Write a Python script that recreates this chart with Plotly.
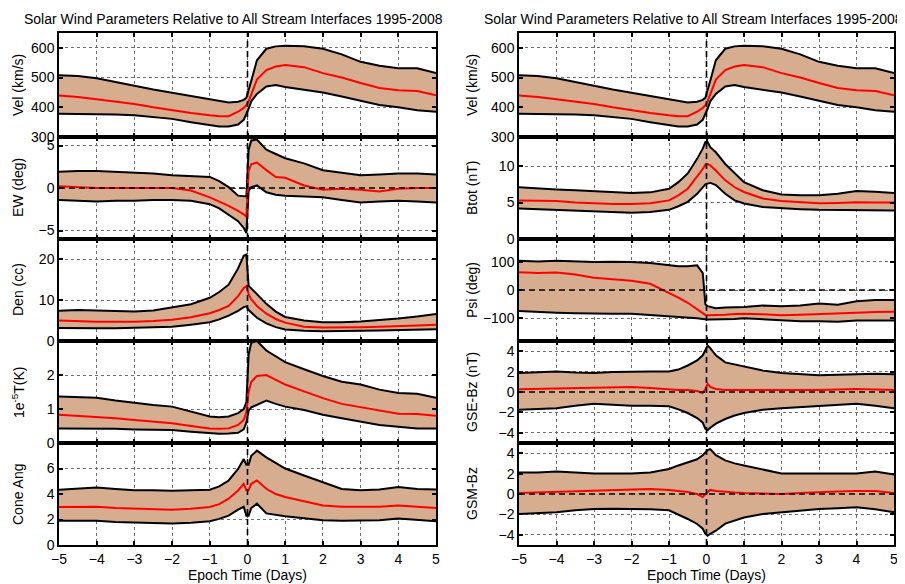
import plotly.graph_objects as go

# ---------------- data ----------------
epoch_days = [-5, -4.5, -4, -3.5, -3, -2.5, -2, -1.5, -1, -0.75, -0.5, -0.25, -0.1, -0.03,
              0.03, 0.1, 0.25, 0.5, 0.75, 1, 1.5, 2, 2.5, 3, 3.5, 4, 4.5, 5]

vel_upper = [508, 505, 498, 485, 472, 460, 449, 438, 427, 420, 416, 419, 425, 432,
             455, 489, 558, 597, 605, 607, 605, 597, 578, 553, 540, 531, 531, 515]
vel_median = [440, 435, 427, 420, 411, 400, 390, 381, 373, 370, 370, 385, 398, 407,
              420, 443, 493, 525, 537, 542, 535, 515, 500, 482, 465, 457, 455, 440]
vel_lower = [378, 378, 378, 376, 373, 367, 361, 350, 340, 335, 335, 342, 358, 375,
             395, 420, 445, 470, 475, 468, 458, 450, 436, 423, 408, 400, 390, 385]

ew_upper = [1.9, 2.0, 2.0, 1.9, 1.8, 1.7, 1.5, 1.4, 1.3, 0.8, 0.1, -0.9, -1.0, -1.0,
            4.5, 5.6, 5.7, 4.5, 4.0, 3.5, 2.9, 2.1, 1.8, 1.5, 1.6, 1.7, 1.7, 1.6]
ew_median = [0.2, 0.1, 0.0, 0.0, 0.0, 0.0, 0.0, -0.3, -1.1, -1.6, -2.1, -2.7, -3.1, -3.4,
             2.0, 2.8, 3.0, 2.1, 1.3, 1.2, 0.3, -0.2, -0.1, -0.2, -0.4, -0.1, 0.0, 0.0]
ew_lower = [-1.4, -1.5, -1.6, -1.5, -1.5, -1.4, -1.4, -1.5, -1.9, -2.4, -3.1, -3.9, -4.7, -5.3,
            -0.3, 0.1, 0.3, -0.5, -0.8, -0.9, -1.0, -1.1, -1.4, -1.7, -1.6, -1.5, -1.6, -1.7]

den_upper = [7.4, 7.6, 7.5, 7.3, 7.2, 7.5, 8.2, 9.0, 10.6, 12.0, 13.8, 17.8, 20.9, 21.2,
             13.5, 12.8, 11.5, 9.1, 7.2, 5.9, 5.0, 4.6, 4.6, 4.8, 5.1, 5.5, 6.0, 6.6]
den_median = [5.0, 4.8, 4.7, 4.7, 4.7, 4.9, 5.2, 5.8, 6.8, 7.6, 8.6, 11.0, 13.0, 13.4,
              11.5, 10.2, 8.6, 6.7, 5.4, 4.5, 3.5, 3.3, 3.3, 3.4, 3.5, 3.6, 3.8, 4.0]
den_lower = [3.2, 3.1, 3.1, 3.1, 3.2, 3.3, 3.5, 4.0, 4.6, 5.3, 6.2, 7.4, 8.3, 8.5,
             7.6, 7.0, 5.7, 4.3, 3.4, 2.8, 2.5, 2.4, 2.4, 2.5, 2.6, 2.7, 2.8, 2.9]

temp_upper = [1.37, 1.35, 1.33, 1.25, 1.18, 1.12, 1.07, 0.93, 0.78, 0.76, 0.78, 0.88, 1.0, 1.2,
              2.6, 2.95, 3.0, 2.72, 2.55, 2.38, 2.17, 1.97, 1.8, 1.72, 1.57, 1.47, 1.45, 1.33]
temp_median = [0.83, 0.8, 0.78, 0.73, 0.68, 0.63, 0.58, 0.5, 0.43, 0.42, 0.43, 0.53, 0.68, 0.9,
               1.5, 1.8, 1.97, 2.0, 1.85, 1.72, 1.52, 1.32, 1.15, 1.05, 0.95, 0.86, 0.85, 0.8]
temp_lower = [0.43, 0.43, 0.43, 0.42, 0.4, 0.39, 0.38, 0.33, 0.28, 0.27, 0.28, 0.3, 0.4, 0.6,
              0.95, 1.05, 1.12, 1.25, 1.15, 1.07, 0.97, 0.83, 0.73, 0.63, 0.53, 0.48, 0.43, 0.43]

cone_upper = [4.33, 4.4, 4.5, 4.4, 4.3, 4.3, 4.25, 4.3, 4.33, 4.6, 5.06, 5.97, 6.74, 6.3,
              6.3, 7.0, 7.4, 6.87, 6.4, 6.0, 5.45, 4.93, 4.4, 4.3, 4.35, 4.55, 4.4, 4.35]
cone_median = [2.98, 3.0, 3.0, 2.9, 2.85, 2.8, 2.77, 2.85, 2.98, 3.2, 3.63, 4.28, 4.8, 4.3,
               4.3, 4.8, 5.06, 4.41, 4.0, 3.76, 3.4, 3.1, 3.0, 3.0, 3.0, 3.1, 3.0, 2.9]
cone_lower = [1.9, 1.9, 1.9, 1.8, 1.75, 1.7, 1.68, 1.75, 1.87, 2.05, 2.3, 2.77, 3.0, 2.3,
              2.3, 2.9, 3.24, 2.48, 2.35, 2.25, 2.1, 1.94, 1.9, 1.9, 1.95, 2.07, 1.95, 1.87]

btot_upper = [7.1, 6.9, 6.8, 6.7, 6.6, 6.4, 6.3, 6.4, 6.9, 7.8, 9.0, 11.0, 12.4, 13.3,
              13.3, 12.6, 11.9, 10.3, 9.0, 7.8, 6.7, 6.1, 6.0, 6.0, 6.2, 6.6, 6.5, 6.3]
btot_median = [5.3, 5.25, 5.2, 5.0, 4.87, 4.8, 4.8, 4.9, 5.3, 6.0, 6.9, 8.5, 9.6, 10.2,
               10.3, 10.1, 9.4, 8.05, 7.1, 6.45, 5.55, 5.2, 5.0, 4.9, 4.95, 5.05, 5.0, 5.0]
btot_lower = [4.2, 4.1, 4.0, 3.9, 3.73, 3.65, 3.6, 3.7, 4.0, 4.5, 5.1, 6.2, 7.1, 7.5,
              7.6, 7.7, 7.4, 6.2, 5.3, 4.87, 4.4, 4.2, 4.1, 4.0, 4.0, 4.0, 3.95, 3.9]

psi_upper = [103, 101, 103, 100, 99, 100, 99, 95, 87, 84, 84, 87, 60, -50,
             -57, -60, -64, -62, -61, -60, -55, -57, -55, -48, -52, -40, -35, -35]
psi_median = [63, 60, 62, 55, 43, 38, 33, 22, -9, -27, -45, -68, -84, -88,
              -89, -89, -89, -87, -85, -84, -86, -89, -87, -84, -82, -80, -78, -77]
psi_lower = [-74, -78, -80, -82, -84, -84, -84, -88, -92, -94, -96, -100, -102, -104,
             -104, -104, -104, -104, -102, -100, -104, -108, -110, -110, -112, -108, -108, -108]

gse_upper = [1.87, 1.95, 2.0, 1.9, 1.87, 1.95, 2.0, 2.0, 2.0, 2.2, 2.6, 3.1, 3.6, 4.2,
             4.55, 4.3, 3.6, 2.9, 2.7, 2.45, 2.1, 1.87, 1.75, 1.65, 1.7, 1.74, 1.8, 1.74]
gse_median = [0.26, 0.3, 0.3, 0.35, 0.4, 0.45, 0.5, 0.4, 0.26, 0.2, 0.2, 0.1, -0.1, 0.3,
              0.8, 0.5, 0.3, 0.2, 0.2, 0.2, 0.15, 0.2, 0.15, 0.2, 0.25, 0.3, 0.25, 0.2]
gse_lower = [-1.74, -1.7, -1.6, -1.35, -1.16, -1.25, -1.35, -1.35, -1.4, -1.7, -2.06, -2.55, -3.0, -3.6,
             -3.75, -3.5, -3.1, -2.65, -2.3, -2.06, -1.74, -1.6, -1.5, -1.4, -1.3, -1.16, -1.35, -1.6]

gsm_upper = [2.1, 2.1, 2.2, 2.1, 2.0, 2.0, 2.0, 2.1, 2.45, 2.8, 3.1, 3.4, 3.8, 4.1,
             4.3, 4.4, 3.8, 3.3, 3.0, 2.8, 2.4, 2.0, 2.0, 2.0, 2.0, 2.0, 2.2, 1.9]
gsm_median = [0.1, 0.15, 0.2, 0.25, 0.3, 0.35, 0.4, 0.5, 0.4, 0.3, 0.2, 0.0, -0.3, 0.0,
              0.2, 0.4, 0.3, 0.2, 0.15, 0.1, 0.05, 0.0, 0.1, 0.2, 0.25, 0.3, 0.3, 0.1]
gsm_lower = [-1.96, -1.9, -1.8, -1.6, -1.47, -1.45, -1.47, -1.5, -1.6, -2.0, -2.45, -2.94, -3.4, -3.9,
             -4.1, -3.9, -3.6, -2.9, -2.6, -2.3, -1.96, -1.8, -1.6, -1.47, -1.4, -1.3, -1.5, -1.8]

x_ticks = [-5, -4, -3, -2, -1, 0, 1, 2, 3, 4, 5]
title_text = "Solar Wind Parameters Relative to All Stream Interfaces 1995-2008"
x_title = "Epoch Time (Days)"

# label, upper, median, lower, y-range, y-ticks, zero line
left_panels = [
    ("Vel (km/s)", vel_upper, vel_median, vel_lower, [300, 650], [300, 400, 500, 600], False),
    ("EW (deg)", ew_upper, ew_median, ew_lower, [-6, 6], [-5, 0, 5], True),
    ("Den (cc)", den_upper, den_median, den_lower, [0, 25], [0, 10, 20], False),
    ("1e<sup>-5</sup>T(K)", temp_upper, temp_median, temp_lower, [0, 3], [0, 1, 2], False),
    ("Cone Ang", cone_upper, cone_median, cone_lower, [0, 8], [0, 2, 4, 6], False),
]
right_panels = [
    ("Vel (km/s)", vel_upper, vel_median, vel_lower, [300, 650], [300, 400, 500, 600], False),
    ("Btot (nT)", btot_upper, btot_median, btot_lower, [0, 14], [0, 5, 10], False),
    ("Psi (deg)", psi_upper, psi_median, psi_lower, [-180, 180], [-100, 0, 100], True),
    ("GSE-Bz (nT)", gse_upper, gse_median, gse_lower, [-5, 5], [-4, -2, 0, 2, 4], True),
    ("GSM-Bz", gsm_upper, gsm_median, gsm_lower, [-5, 5], [-4, -2, 0, 2, 4], True),
]

# ---------------- layout geometry (page pixels; page body has an 8px margin) ----------------
OFF = 8
W, H = 905 - OFF, 584 - OFF
FONT = "Liberation Sans, Arial, Helvetica, sans-serif"
FILL = "rgb(214,173,143)"
col_px = [(59, 436), (519, 894)]
row_px = [33, 137, 239, 341, 443, 545]
ylab_px = [18, 472]
title_px = [22, 482]


def fx(p):
    return (p - OFF) / W


def fy(p):
    return 1 - (p - OFF) / H


fig = go.Figure()
layout = dict(
    width=W, height=H, margin=dict(l=0, r=0, t=0, b=0, autoexpand=False),
    paper_bgcolor="white", plot_bgcolor="white", showlegend=False,
    font=dict(family=FONT, size=14, color="black"),
)
shapes, annotations = [], []

idx = 0
for c, panels in enumerate([left_panels, right_panels]):
    x0p, x1p = col_px[c]
    for r, (label, up, med, lo, yr, yt, zero) in enumerate(panels):
        idx += 1
        xa = "x" if idx == 1 else f"x{idx}"
        ya = "y" if idx == 1 else f"y{idx}"
        top, bot = row_px[r], row_px[r + 1]
        # band fill
        fig.add_trace(go.Scatter(x=epoch_days, y=lo, mode="lines", line=dict(width=0),
                                 xaxis=xa, yaxis=ya, hoverinfo="skip"))
        fig.add_trace(go.Scatter(x=epoch_days, y=up, mode="lines", line=dict(width=0),
                                 fill="tonexty", fillcolor=FILL, xaxis=xa, yaxis=ya, hoverinfo="skip"))
        # boundary lines
        for arr in (lo, up):
            fig.add_trace(go.Scatter(x=epoch_days, y=arr, mode="lines",
                                     line=dict(color="black", width=2), xaxis=xa, yaxis=ya))
        fig.add_trace(go.Scatter(x=epoch_days, y=med, mode="lines",
                                 line=dict(color="red", width=2), xaxis=xa, yaxis=ya))

        bottom_row = (r == len(panels) - 1)
        axis_common = dict(showline=True, linecolor="black", linewidth=1.5, mirror="ticks",
                           ticks="inside", ticklen=4, tickwidth=1.5, tickcolor="black",
                           showgrid=True, gridcolor="rgb(110,110,110)", gridwidth=1,
                           griddash="dot", zeroline=False, automargin=False,
                           tickfont=dict(family=FONT, size=14, color="black"))
        xdict = dict(axis_common, domain=[fx(x0p), fx(x1p)], anchor=ya, range=[-5, 5],
                     tickvals=x_ticks, showticklabels=bottom_row)
        if bottom_row:
            xdict["title"] = dict(text=x_title, font=dict(size=14), standoff=2)
        layout["xaxis" if idx == 1 else f"xaxis{idx}"] = xdict
        layout["yaxis" if idx == 1 else f"yaxis{idx}"] = dict(
            axis_common, domain=[fy(bot), fy(top)], anchor=xa, range=yr, tickvals=yt)

        # vertical dashed line at epoch 0
        shapes.append(dict(type="line", xref=xa, yref=f"{ya} domain", x0=0, x1=0, y0=0, y1=1,
                           line=dict(color="black", width=1.6, dash="6px,4px"), layer="above"))
        if zero:
            shapes.append(dict(type="line", xref=f"{xa} domain", yref=ya, x0=0, x1=1, y0=0, y1=0,
                               line=dict(color="black", width=1.6, dash="6px,4px"), layer="above"))
        # y-axis label
        annotations.append(dict(text=label, xref="paper", yref="paper",
                                x=fx(ylab_px[c]), y=fy((top + bot) / 2),
                                xanchor="center", yanchor="middle", textangle=-90,
                                showarrow=False, font=dict(size=14, color="black")))
    annotations.append(dict(text=title_text, xref="paper", yref="paper",
                            x=fx(title_px[c]), y=fy(19), xanchor="left", yanchor="middle",
                            showarrow=False, font=dict(size=14, color="black")))

layout["shapes"] = shapes
layout["annotations"] = annotations
fig.update_layout(**layout)
fig.write_html("out.html")
